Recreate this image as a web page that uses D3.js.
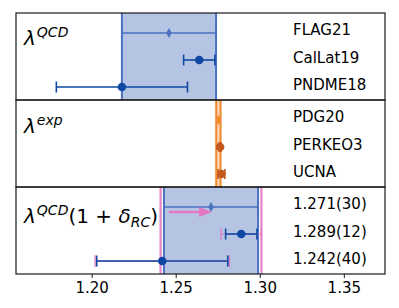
<!DOCTYPE html>
<meta charset="utf-8">
<script src="https://d3js.org/d3.v7.min.js"></script>
<style>
  body { margin: 0; background: #fff; }
  text { font-family: "DejaVu Sans", sans-serif; fill: #000; }
</style>
<body>
<svg width="399" height="308"></svg>
<script>
    // lattice QCD results
    var qcdNames = ["FLAG21", "CalLat19", "PNDME18"];
    var qcdVals  = [1.246, 1.264, 1.218];
    var qcdErrs  = [0.028, 0.0093, 0.039];
    // experiment
    var expNames = ["PDG20", "PERKEO3", "UCNA"];
    var expVals  = [1.2754, 1.27641, 1.2772];
    var expErrs  = [0.0013, 0.00056, 0.0020];
    // QCD with radiative corrections
    var rcLabels = ["1.271(30)", "1.289(12)", "1.242(40)"];
    var rcVals   = [1.271, 1.289, 1.242];
    var rcErrQ   = [0.028, 0.0093, 0.039];
    var rcErrT   = [0.030, 0.012, 0.040];
    var xTicks   = [1.20, 1.25, 1.30, 1.35];

    var svg = d3.select('svg');
    var L = 16, R = 385, T = 13, B = 274;
    var ph = (B - T) / 3;
    var x = d3.scaleLinear().domain([1.155, 1.3745]).range([L, R]);

    var blueLight = '#4a72c0', blueDark = '#0f48a3', bandFill = '#b4c4e2';
    var orange = '#f28a2e', orangeDark = '#c65a1e', orangeFill = '#f8d2ae', pink = '#e377c2';

    function panelY(k){
        return d3.scaleLinear().domain([-0.74, 2.48]).range([T + k*ph, T + (k+1)*ph]);
    }
    var y0 = panelY(0), y1 = panelY(1), y2 = panelY(2);

    function errbar(g, v, e, yy, color, w, cap){
        g.append('line').attr('x1', x(v - e)).attr('x2', x(v + e)).attr('y1', yy).attr('y2', yy)
            .attr('stroke', color).attr('stroke-width', w);
        [v - e, v + e].forEach(function(c){
            g.append('line').attr('x1', x(c)).attr('x2', x(c)).attr('y1', yy - cap).attr('y2', yy + cap)
                .attr('stroke', color).attr('stroke-width', w);
        });
    }
    function dot(g, v, yy, color){
        g.append('circle').attr('cx', x(v)).attr('cy', yy).attr('r', 4.3).attr('fill', color);
    }
    function diamond(g, v, yy, color){
        var cx = x(v);
        g.append('path').attr('d', 'M' + cx + ',' + (yy - 5) + 'L' + (cx + 2.8) + ',' + yy + 'L' + cx + ',' + (yy + 5) + 'L' + (cx - 2.8) + ',' + yy + 'Z')
            .attr('fill', color);
    }

    var g = svg.append('g');

    // ---- top panel: lambda QCD
    g.append('rect').attr('x', x(qcdVals[0] - qcdErrs[0])).attr('y', T)
        .attr('width', x(qcdVals[0] + qcdErrs[0]) - x(qcdVals[0] - qcdErrs[0])).attr('height', ph)
        .attr('fill', bandFill);
    [qcdVals[0] - qcdErrs[0], qcdVals[0] + qcdErrs[0]].forEach(function(c){
        g.append('line').attr('x1', x(c)).attr('x2', x(c)).attr('y1', T).attr('y2', T + ph)
            .attr('stroke', blueLight).attr('stroke-width', 2);
    });
    errbar(g, qcdVals[0], qcdErrs[0], y0(0), blueLight, 1.5, 5);
    diamond(g, qcdVals[0], y0(0), blueLight);
    for (var i = 1; i < 3; i++) {
        errbar(g, qcdVals[i], qcdErrs[i], y0(i), blueDark, 1.6, 5.5);
        dot(g, qcdVals[i], y0(i), blueDark);
    }

    // ---- middle panel: lambda exp
    g.append('rect').attr('x', x(expVals[0] - expErrs[0])).attr('y', T + ph)
        .attr('width', x(expVals[0] + expErrs[0]) - x(expVals[0] - expErrs[0])).attr('height', ph)
        .attr('fill', orangeFill);
    [expVals[0] - expErrs[0], expVals[0] + expErrs[0]].forEach(function(c){
        g.append('line').attr('x1', x(c)).attr('x2', x(c)).attr('y1', T + ph).attr('y2', T + 2*ph)
            .attr('stroke', orange).attr('stroke-width', 2);
    });
    diamond(g, expVals[0], y1(0), orange);
    for (var j = 1; j < 3; j++) {
        errbar(g, expVals[j], expErrs[j], y1(j), orangeDark, 1.6, 5);
        dot(g, expVals[j], y1(j), orangeDark);
    }

    // ---- bottom panel: lambda QCD (1 + delta RC)
    var b0 = rcVals[0] - rcErrQ[0], b1 = rcVals[0] + rcErrQ[0];
    g.append('rect').attr('x', x(b0)).attr('y', T + 2*ph)
        .attr('width', x(b1) - x(b0)).attr('height', ph).attr('fill', bandFill);
    [b0, b1].forEach(function(c){
        g.append('line').attr('x1', x(c)).attr('x2', x(c)).attr('y1', T + 2*ph).attr('y2', B)
            .attr('stroke', blueLight).attr('stroke-width', 2);
    });
    [rcVals[0] - rcErrT[0], rcVals[0] + rcErrT[0]].forEach(function(c){
        g.append('line').attr('x1', x(c)).attr('x2', x(c)).attr('y1', T + 2*ph).attr('y2', B)
            .attr('stroke', pink).attr('stroke-width', 2.2).attr('opacity', 0.9);
    });
    for (var k = 1; k < 3; k++) {
        errbar(g, rcVals[k], rcErrT[k], y2(k), pink, 1.2, 6);
    }
    errbar(g, rcVals[0], rcErrQ[0], y2(0), blueLight, 1.5, 5);
    diamond(g, rcVals[0], y2(0), blueLight);
    for (var m = 1; m < 3; m++) {
        errbar(g, rcVals[m], rcErrQ[m], y2(m), blueDark, 1.6, 5.5);
        dot(g, rcVals[m], y2(m), blueDark);
    }
    // shift arrow from FLAG21 to corrected value
    var ay = y2(0) + 5, ax0 = x(qcdVals[0]), ax1 = x(rcVals[0]) + 1, hl = 13;
    g.append('line').attr('x1', ax0).attr('x2', ax1 - hl + 1).attr('y1', ay).attr('y2', ay)
        .attr('stroke', pink).attr('stroke-width', 2.5);
    g.append('path').attr('d', 'M' + ax1 + ',' + ay + 'L' + (ax1 - hl) + ',' + (ay - 5) + 'L' + (ax1 - hl) + ',' + (ay + 5) + 'Z')
        .attr('fill', pink);

    // ---- frames
    for (var p = 0; p < 3; p++) {
        g.append('rect').attr('x', L).attr('y', T + p*ph).attr('width', R - L).attr('height', ph)
            .attr('fill', 'none').attr('stroke', '#1a1a1a').attr('stroke-width', 1.2);
    }

    // ---- right labels
    var tx = 293;
    [[qcdNames, y0], [expNames, y1], [rcLabels, y2]].forEach(function(s){
        s[0].forEach(function(t, i){
            g.append('text').attr('x', tx).attr('y', s[1](i) + 2.5).attr('font-size', 15).text(t);
        });
    });

    // ---- left math labels
    function lam(yb, sup){
        var t = g.append('text').attr('x', 24).attr('y', yb).attr('font-size', 20);
        t.append('tspan').attr('font-style', 'italic').text('λ');
        t.append('tspan').attr('font-style', 'italic').attr('font-size', 14).attr('dy', -8).attr('dx', 1).text(sup);
        return t;
    }
    lam(T + 32, 'QCD');
    lam(T + ph + 33, 'exp');
    var t3 = lam(T + 2*ph + 36, 'QCD');
    t3.append('tspan').attr('dy', 8).text('(1 + ');
    t3.append('tspan').attr('font-style', 'italic').text('δ');
    t3.append('tspan').attr('font-style', 'italic').attr('font-size', 14).attr('dy', 4).text('RC');
    t3.append('tspan').attr('dy', -4).text(')');

    // ---- x axis
    var ax = d3.axisBottom(x).tickValues(xTicks).tickFormat(d3.format('.2f')).tickSize(4).tickPadding(4);
    var axg = svg.append('g').attr('transform', 'translate(0,' + B + ')').call(ax);
    axg.select('.domain').remove();
    axg.selectAll('text').attr('font-size', 15).attr('font-family', 'DejaVu Sans');
    axg.selectAll('line').attr('stroke', '#1a1a1a').attr('stroke-width', 1);
</script>
</body>
